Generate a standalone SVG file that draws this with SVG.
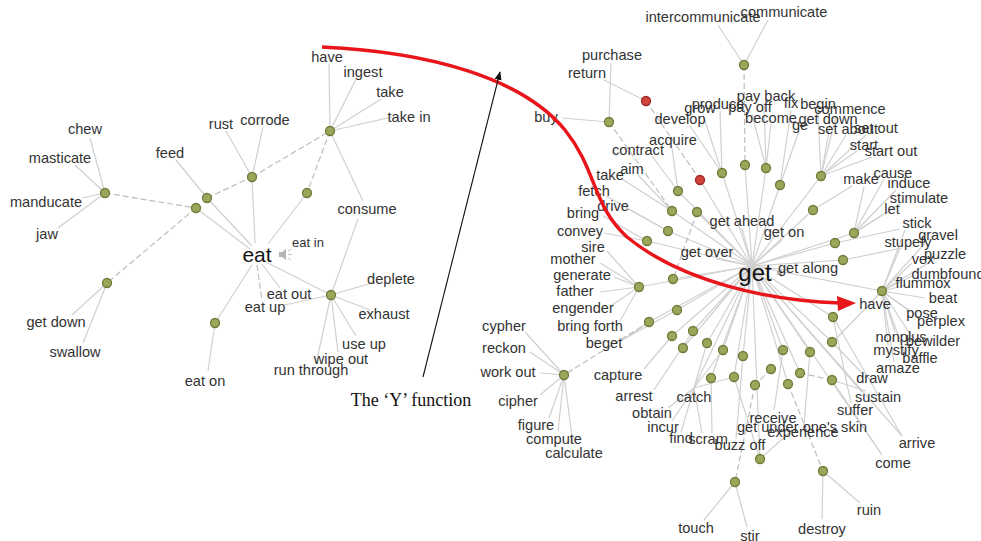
<svg xmlns="http://www.w3.org/2000/svg" width="981" height="541" viewBox="0 0 981 541">
<style>
  text { font-family: "Liberation Sans", Arial, sans-serif; font-size: 14.6px; fill: #333; text-anchor: middle; }
  .big { font-size: 21px; fill: #111; }
  .huge { font-size: 24px; fill: #111; }
  .small { font-size: 13px; }
  .cap { font-family: "Liberation Serif", "Times New Roman", serif; font-size: 18px; fill: #111; }
  .e line { stroke: #d0d0d0; stroke-width: 1.2; }
  .e line.d { stroke: #bdbdbd; stroke-dasharray: 6 3; }
  .node circle { fill: #9aa65a; stroke: #6e7b3a; stroke-width: 1.3; }
  .node.hot circle { fill: #d2433d; stroke: #9c2b26; }
  .icon { fill: #b5b5b5; }
</style>
<defs>
  <marker id="blk" viewBox="0 0 10 10" refX="9" refY="5" markerWidth="8" markerHeight="8" orient="auto">
    <path d="M0,1 L10,5 L0,9 z" fill="#111"/>
  </marker>
</defs>
<rect width="981" height="541" fill="#fff"/>

<!-- connectors -->
<g id="connectors" class="e">
  <!-- eat cluster -->
  <line x1="105" y1="193" x2="90" y2="138"/>
  <line x1="105" y1="193" x2="75" y2="165"/>
  <line x1="105" y1="193" x2="82" y2="198"/>
  <line x1="105" y1="193" x2="58" y2="228"/>
  <line class="d" x1="105" y1="193" x2="196" y2="208"/>
  <line x1="207" y1="198" x2="176" y2="160"/>
  <line x1="207" y1="198" x2="252" y2="246"/>
  <line x1="196" y1="208" x2="250" y2="249"/>
  <line class="d" x1="207" y1="198" x2="252" y2="177"/>
  <line class="d" x1="196" y1="208" x2="107" y2="283"/>
  <line x1="252" y1="177" x2="226" y2="131"/>
  <line x1="252" y1="177" x2="263" y2="127"/>
  <line x1="252" y1="177" x2="255" y2="243"/>
  <line class="d" x1="252" y1="177" x2="330" y2="131"/>
  <line x1="330" y1="131" x2="329" y2="64"/>
  <line x1="330" y1="131" x2="356" y2="79"/>
  <line x1="330" y1="131" x2="381" y2="99"/>
  <line x1="330" y1="131" x2="392" y2="117"/>
  <line x1="330" y1="131" x2="363" y2="201"/>
  <line class="d" x1="330" y1="131" x2="307" y2="193"/>
  <line x1="307" y1="193" x2="268" y2="244"/>
  <line x1="358" y1="219" x2="331" y2="295"/>
  <line x1="331" y1="295" x2="375" y2="282"/>
  <line x1="331" y1="295" x2="370" y2="310"/>
  <line x1="331" y1="295" x2="356" y2="336"/>
  <line x1="331" y1="295" x2="338" y2="352"/>
  <line x1="331" y1="295" x2="316" y2="364"/>
  <line x1="331" y1="295" x2="284" y2="305"/>
  <line x1="266" y1="262" x2="331" y2="295"/>
  <line x1="262" y1="264" x2="280" y2="288"/>
  <line class="d" x1="257" y1="265" x2="262" y2="301"/>
  <line x1="252" y1="265" x2="215" y2="323"/>
  <line x1="215" y1="323" x2="208" y2="371"/>
  <line x1="107" y1="283" x2="72" y2="315"/>
  <line x1="107" y1="283" x2="83" y2="343"/>

  <!-- get cluster: spokes from the hub -->
  <line x1="752" y1="266" x2="722" y2="173"/>
  <line x1="752" y1="266" x2="745" y2="165"/>
  <line x1="752" y1="266" x2="766" y2="168"/>
  <line x1="752" y1="266" x2="780" y2="185"/>
  <line x1="752" y1="266" x2="700" y2="180"/>
  <line x1="752" y1="266" x2="678" y2="191"/>
  <line x1="752" y1="266" x2="672" y2="211"/>
  <line x1="752" y1="266" x2="697" y2="212"/>
  <line x1="752" y1="266" x2="668" y2="231"/>
  <line x1="752" y1="266" x2="647" y2="241"/>
  <line x1="752" y1="266" x2="821" y2="176"/>
  <line x1="752" y1="266" x2="813" y2="210"/>
  <line x1="752" y1="266" x2="854" y2="233"/>
  <line x1="752" y1="266" x2="835" y2="243"/>
  <line x1="752" y1="266" x2="843" y2="260"/>
  <line x1="752" y1="266" x2="673" y2="279"/>
  <line x1="752" y1="266" x2="639" y2="287"/>
  <line x1="752" y1="266" x2="677" y2="310"/>
  <line x1="752" y1="266" x2="649" y2="322"/>
  <line x1="752" y1="266" x2="672" y2="336"/>
  <line x1="752" y1="266" x2="693" y2="331"/>
  <line x1="752" y1="266" x2="882" y2="291"/>
  <line x1="752" y1="266" x2="833" y2="317"/>
  <line x1="752" y1="266" x2="683" y2="348"/>
  <line x1="752" y1="266" x2="707" y2="343"/>
  <line x1="752" y1="266" x2="723" y2="350"/>
  <line x1="752" y1="266" x2="743" y2="356"/>
  <line x1="752" y1="266" x2="783" y2="350"/>
  <line x1="752" y1="266" x2="810" y2="352"/>
  <line x1="752" y1="266" x2="832" y2="342"/>
  <line x1="752" y1="266" x2="711" y2="378"/>
  <line x1="752" y1="266" x2="734" y2="377"/>
  <line x1="752" y1="266" x2="788" y2="384"/>
  <line x1="752" y1="266" x2="800" y2="373"/>
  <line x1="752" y1="266" x2="760" y2="459"/>
  <line x1="752" y1="266" x2="742" y2="228"/>
  <line x1="752" y1="266" x2="782" y2="240"/>
  <line x1="752" y1="266" x2="716" y2="259"/>
  <line x1="752" y1="266" x2="790" y2="270"/>
  <line x1="752" y1="266" x2="902" y2="436"/>
  <line x1="752" y1="266" x2="882" y2="455"/>
  <line x1="752" y1="266" x2="862" y2="392"/>
  <line x1="752" y1="266" x2="694" y2="388"/>

  <!-- get cluster: leaves -->
  <line x1="744" y1="65" x2="718" y2="25"/>
  <line x1="744" y1="65" x2="768" y2="20"/>
  <line class="d" x1="744" y1="65" x2="745" y2="165"/>
  <line x1="646" y1="101" x2="604" y2="80"/>
  <line class="d" x1="646" y1="101" x2="700" y2="180"/>
  <line x1="609" y1="122" x2="611" y2="63"/>
  <line x1="609" y1="122" x2="562" y2="118"/>
  <line class="d" x1="609" y1="122" x2="672" y2="211"/>
  <line x1="722" y1="173" x2="690" y2="126"/>
  <line x1="722" y1="173" x2="703" y2="115"/>
  <line x1="722" y1="173" x2="720" y2="111"/>
  <line x1="766" y1="168" x2="752" y2="114"/>
  <line x1="766" y1="168" x2="764" y2="103"/>
  <line x1="766" y1="168" x2="771" y2="124"/>
  <line x1="780" y1="185" x2="791" y2="110"/>
  <line x1="780" y1="185" x2="799" y2="131"/>
  <line x1="821" y1="176" x2="818" y2="111"/>
  <line x1="821" y1="176" x2="836" y2="116"/>
  <line x1="821" y1="176" x2="830" y2="125"/>
  <line x1="821" y1="176" x2="846" y2="135"/>
  <line x1="821" y1="176" x2="866" y2="135"/>
  <line x1="821" y1="176" x2="857" y2="151"/>
  <line x1="821" y1="176" x2="872" y2="157"/>
  <line x1="813" y1="210" x2="852" y2="186"/>
  <line x1="854" y1="233" x2="884" y2="179"/>
  <line x1="854" y1="233" x2="896" y2="190"/>
  <line x1="854" y1="233" x2="900" y2="204"/>
  <line x1="854" y1="233" x2="884" y2="214"/>
  <line x1="854" y1="233" x2="864" y2="187"/>
  <line x1="835" y1="243" x2="900" y2="229"/>
  <line x1="843" y1="260" x2="902" y2="248"/>
  <line x1="882" y1="291" x2="905" y2="230"/>
  <line x1="882" y1="291" x2="926" y2="242"/>
  <line x1="882" y1="291" x2="900" y2="248"/>
  <line x1="882" y1="291" x2="935" y2="259"/>
  <line x1="882" y1="291" x2="912" y2="263"/>
  <line x1="882" y1="291" x2="912" y2="276"/>
  <line x1="882" y1="291" x2="906" y2="285"/>
  <line x1="882" y1="291" x2="925" y2="298"/>
  <line x1="882" y1="291" x2="908" y2="310"/>
  <line x1="882" y1="291" x2="920" y2="318"/>
  <line x1="882" y1="291" x2="895" y2="332"/>
  <line x1="882" y1="291" x2="912" y2="337"/>
  <line x1="882" y1="291" x2="888" y2="345"/>
  <line x1="882" y1="291" x2="905" y2="354"/>
  <line x1="882" y1="291" x2="894" y2="362"/>
  <line x1="882" y1="291" x2="876" y2="297"/>
  <line x1="882" y1="291" x2="833" y2="342"/>
  <line x1="678" y1="191" x2="672" y2="148"/>
  <line x1="678" y1="191" x2="652" y2="156"/>
  <line x1="672" y1="211" x2="638" y2="175"/>
  <line x1="672" y1="211" x2="622" y2="179"/>
  <line class="d" x1="697" y1="212" x2="673" y2="279"/>
  <line x1="668" y1="231" x2="606" y2="196"/>
  <line x1="668" y1="231" x2="628" y2="209"/>
  <line x1="647" y1="241" x2="603" y2="216"/>
  <line x1="647" y1="241" x2="604" y2="233"/>
  <line x1="639" y1="287" x2="607" y2="251"/>
  <line x1="639" y1="287" x2="600" y2="263"/>
  <line x1="639" y1="287" x2="614" y2="277"/>
  <line x1="639" y1="287" x2="600" y2="292"/>
  <line x1="639" y1="287" x2="612" y2="305"/>
  <line x1="639" y1="287" x2="620" y2="321"/>
  <line x1="677" y1="310" x2="622" y2="340"/>
  <line x1="649" y1="322" x2="626" y2="338"/>
  <line class="d" x1="649" y1="322" x2="564" y2="375"/>
  <line x1="564" y1="375" x2="525" y2="332"/>
  <line x1="564" y1="375" x2="530" y2="352"/>
  <line x1="564" y1="375" x2="540" y2="373"/>
  <line x1="564" y1="375" x2="540" y2="395"/>
  <line x1="564" y1="375" x2="549" y2="418"/>
  <line x1="564" y1="375" x2="558" y2="431"/>
  <line x1="564" y1="375" x2="573" y2="444"/>
  <line x1="672" y1="336" x2="644" y2="369"/>
  <line x1="693" y1="331" x2="654" y2="390"/>
  <line x1="694" y1="388" x2="668" y2="408"/>
  <line x1="694" y1="388" x2="672" y2="421"/>
  <line x1="694" y1="388" x2="681" y2="432"/>
  <line x1="694" y1="388" x2="702" y2="433"/>
  <line x1="694" y1="388" x2="707" y2="343"/>
  <line x1="694" y1="388" x2="723" y2="350"/>
  <line x1="694" y1="388" x2="734" y2="377"/>
  <line x1="743" y1="356" x2="736" y2="439"/>
  <line x1="783" y1="350" x2="774" y2="410"/>
  <line x1="810" y1="352" x2="804" y2="425"/>
  <line x1="832" y1="342" x2="862" y2="373"/>
  <line x1="833" y1="317" x2="851" y2="403"/>
  <line x1="711" y1="378" x2="712" y2="433"/>
  <line x1="734" y1="377" x2="760" y2="459"/>
  <line x1="832" y1="380" x2="866" y2="391"/>
  <line x1="832" y1="380" x2="882" y2="455"/>
  <line x1="833" y1="317" x2="902" y2="436"/>
  <line class="d" x1="771" y1="369" x2="755" y2="385"/>
  <line class="d" x1="755" y1="385" x2="735" y2="482"/>
  <line class="d" x1="788" y1="384" x2="823" y2="471"/>
  <line class="d" x1="800" y1="373" x2="832" y2="380"/>
  <line x1="760" y1="459" x2="790" y2="432"/>
  <line x1="735" y1="482" x2="704" y2="520"/>
  <line x1="735" y1="482" x2="747" y2="527"/>
  <line x1="823" y1="471" x2="822" y2="519"/>
  <line x1="823" y1="471" x2="860" y2="503"/>
</g>

<!-- hub nodes, eat cluster -->
<g id="n-eat-chew" class="node"><circle cx="105" cy="193" r="4.5"/></g>
<g id="n-eat-feed" class="node"><circle cx="207" cy="198" r="4.5"/></g>
<g id="n-eat-link" class="node"><circle cx="196" cy="208" r="4.5"/></g>
<g id="n-eat-corrode" class="node"><circle cx="252" cy="177" r="4.5"/></g>
<g id="n-eat-ingest" class="node"><circle cx="330" cy="131" r="4.5"/></g>
<g id="n-eat-mid" class="node"><circle cx="307" cy="193" r="4.5"/></g>
<g id="n-eat-swallow" class="node"><circle cx="107" cy="283" r="4.5"/></g>
<g id="n-eat-on" class="node"><circle cx="215" cy="323" r="4.5"/></g>
<g id="n-eat-exhaust" class="node"><circle cx="331" cy="295" r="4.5"/></g>

<!-- hub nodes, get cluster -->
<g id="n-get-communicate" class="node"><circle cx="744" cy="65" r="4.5"/></g>
<g id="n-get-return" class="node hot"><circle cx="646" cy="101" r="4.5"/></g>
<g id="n-get-buy" class="node"><circle cx="609" cy="122" r="4.5"/></g>
<g id="n-get-develop" class="node"><circle cx="722" cy="173" r="4.5"/></g>
<g id="n-get-5" class="node"><circle cx="745" cy="165" r="4.5"/></g>
<g id="n-get-payoff" class="node"><circle cx="766" cy="168" r="4.5"/></g>
<g id="n-get-fix" class="node"><circle cx="780" cy="185" r="4.5"/></g>
<g id="n-get-red2" class="node hot"><circle cx="700" cy="180" r="4.5"/></g>
<g id="n-get-acquire" class="node"><circle cx="678" cy="191" r="4.5"/></g>
<g id="n-get-aim" class="node"><circle cx="672" cy="211" r="4.5"/></g>
<g id="n-get-11" class="node"><circle cx="697" cy="212" r="4.5"/></g>
<g id="n-get-fetch" class="node"><circle cx="668" cy="231" r="4.5"/></g>
<g id="n-get-bring" class="node"><circle cx="647" cy="241" r="4.5"/></g>
<g id="n-get-start" class="node"><circle cx="821" cy="176" r="4.5"/></g>
<g id="n-get-make" class="node"><circle cx="813" cy="210" r="4.5"/></g>
<g id="n-get-cause" class="node"><circle cx="854" cy="233" r="4.5"/></g>
<g id="n-get-17" class="node"><circle cx="835" cy="243" r="4.5"/></g>
<g id="n-get-18" class="node"><circle cx="843" cy="260" r="4.5"/></g>
<g id="n-get-19" class="node"><circle cx="673" cy="279" r="4.5"/></g>
<g id="n-get-father" class="node"><circle cx="639" cy="287" r="4.5"/></g>
<g id="n-get-21" class="node"><circle cx="677" cy="310" r="4.5"/></g>
<g id="n-get-beget" class="node"><circle cx="649" cy="322" r="4.5"/></g>
<g id="n-get-capture" class="node"><circle cx="672" cy="336" r="4.5"/></g>
<g id="n-get-arrest" class="node"><circle cx="693" cy="331" r="4.5"/></g>
<g id="n-get-have" class="node"><circle cx="882" cy="291" r="4.5"/></g>
<g id="n-get-suffer" class="node"><circle cx="833" cy="317" r="4.5"/></g>
<g id="n-get-27" class="node"><circle cx="683" cy="348" r="4.5"/></g>
<g id="n-get-28" class="node"><circle cx="707" cy="343" r="4.5"/></g>
<g id="n-get-29" class="node"><circle cx="723" cy="350" r="4.5"/></g>
<g id="n-get-buzz" class="node"><circle cx="743" cy="356" r="4.5"/></g>
<g id="n-get-receive" class="node"><circle cx="783" cy="350" r="4.5"/></g>
<g id="n-get-experience" class="node"><circle cx="810" cy="352" r="4.5"/></g>
<g id="n-get-draw" class="node"><circle cx="832" cy="342" r="4.5"/></g>
<g id="n-get-scram" class="node"><circle cx="711" cy="378" r="4.5"/></g>
<g id="n-get-35" class="node"><circle cx="734" cy="377" r="4.5"/></g>
<g id="n-get-36" class="node"><circle cx="755" cy="385" r="4.5"/></g>
<g id="n-get-37" class="node"><circle cx="771" cy="369" r="4.5"/></g>
<g id="n-get-38" class="node"><circle cx="788" cy="384" r="4.5"/></g>
<g id="n-get-39" class="node"><circle cx="800" cy="373" r="4.5"/></g>
<g id="n-get-sustain" class="node"><circle cx="832" cy="380" r="4.5"/></g>
<g id="n-get-41" class="node"><circle cx="760" cy="459" r="4.5"/></g>
<g id="n-get-touch" class="node"><circle cx="735" cy="482" r="4.5"/></g>
<g id="n-get-destroy" class="node"><circle cx="823" cy="471" r="4.5"/></g>
<g id="n-get-figure" class="node"><circle cx="564" cy="375" r="4.5"/></g>

<!-- word nodes, eat cluster -->
<g id="w-eat"><text class="big" x="257" y="262">eat</text><path class="icon" d="M279,252 h3 l4,-3 v11 l-4,-3 h-3 z"/><path d="M288,251 l3,-2 M288,254.5 h4 M288,258 l3,2" stroke="#c4c4c4" stroke-width="1" fill="none"/></g>
<g id="w-eat-words">
  <text x="85" y="134">chew</text>
  <text x="60" y="163">masticate</text>
  <text x="46" y="207">manducate</text>
  <text x="47" y="239">jaw</text>
  <text x="170" y="158">feed</text>
  <text x="221" y="129">rust</text>
  <text x="265" y="125">corrode</text>
  <text x="327" y="62">have</text>
  <text x="363" y="77">ingest</text>
  <text x="390" y="97">take</text>
  <text x="409" y="122">take in</text>
  <text x="367" y="214">consume</text>
  <text class="small" x="308" y="247">eat in</text>
  <text x="289" y="299">eat out</text>
  <text x="265" y="312">eat up</text>
  <text x="391" y="284">deplete</text>
  <text x="384" y="319">exhaust</text>
  <text x="364" y="349">use up</text>
  <text x="341" y="364">wipe out</text>
  <text x="311" y="375">run through</text>
  <text x="56" y="327">get down</text>
  <text x="75" y="357">swallow</text>
  <text x="205" y="386">eat on</text>
</g>

<!-- word nodes, get cluster -->
<g id="w-get"><text class="huge" x="755" y="281">get</text><path class="icon" d="M777,271 h2 l3,-2 v8 l-3,-2 h-2 z"/></g>
<g id="w-get-words">
  <text x="703" y="22">intercommunicate</text>
  <text x="784" y="17">communicate</text>
  <text x="612" y="60">purchase</text>
  <text x="587" y="78">return</text>
  <text x="546" y="122">buy</text>
  <text x="680" y="124">develop</text>
  <text x="700" y="113">grow</text>
  <text x="718" y="109">produce</text>
  <text x="750" y="112">pay off</text>
  <text x="766" y="101">pay back</text>
  <text x="771" y="123">become</text>
  <text x="791" y="108">fix</text>
  <text x="818" y="109">begin</text>
  <text x="850" y="114">commence</text>
  <text x="828" y="124">get down</text>
  <text x="800" y="130">ge</text>
  <text x="848" y="134">set about</text>
  <text x="876" y="133">set out</text>
  <text x="864" y="150">start</text>
  <text x="891" y="156">start out</text>
  <text x="861" y="184">make</text>
  <text x="893" y="178">cause</text>
  <text x="909" y="188">induce</text>
  <text x="919" y="203">stimulate</text>
  <text x="892" y="214">let</text>
  <text x="917" y="228">stick</text>
  <text x="938" y="240">gravel</text>
  <text x="908" y="247">stupefy</text>
  <text x="945" y="259">puzzle</text>
  <text x="923" y="264">vex</text>
  <text x="948" y="279">dumbfound</text>
  <text x="923" y="288">flummox</text>
  <text x="943" y="303">beat</text>
  <text x="922" y="318">pose</text>
  <text x="941" y="326">perplex</text>
  <text x="901" y="342">nonplus</text>
  <text x="933" y="346">bewilder</text>
  <text x="896" y="355">mystify</text>
  <text x="920" y="363">baffle</text>
  <text x="898" y="373">amaze</text>
  <text x="872" y="383">draw</text>
  <text x="878" y="402">sustain</text>
  <text x="855" y="415">suffer</text>
  <text x="773" y="423">receive</text>
  <text x="802" y="432">get under one's skin</text>
  <text x="803" y="437">experience</text>
  <text x="917" y="448">arrive</text>
  <text x="893" y="468">come</text>
  <text x="869" y="515">ruin</text>
  <text x="822" y="534">destroy</text>
  <text x="750" y="541">stir</text>
  <text x="696" y="533">touch</text>
  <text x="740" y="450">buzz off</text>
  <text x="708" y="444">scram</text>
  <text x="681" y="443">find</text>
  <text x="663" y="432">incur</text>
  <text x="652" y="418">obtain</text>
  <text x="694" y="402">catch</text>
  <text x="634" y="401">arrest</text>
  <text x="618" y="380">capture</text>
  <text x="604" y="348">beget</text>
  <text x="590" y="331">bring forth</text>
  <text x="583" y="313">engender</text>
  <text x="575" y="296">father</text>
  <text x="582" y="280">generate</text>
  <text x="573" y="264">mother</text>
  <text x="593" y="252">sire</text>
  <text x="580" y="236">convey</text>
  <text x="583" y="218">bring</text>
  <text x="613" y="211">drive</text>
  <text x="594" y="196">fetch</text>
  <text x="610" y="180">take</text>
  <text x="632" y="174">aim</text>
  <text x="638" y="155">contract</text>
  <text x="673" y="145">acquire</text>
  <text x="742" y="226">get ahead</text>
  <text x="784" y="237">get on</text>
  <text x="707" y="257">get over</text>
  <text x="808" y="273">get along</text>
  <text x="875" y="309">have</text>
  <text x="504" y="331">cypher</text>
  <text x="504" y="353">reckon</text>
  <text x="508" y="377">work out</text>
  <text x="518" y="406">cipher</text>
  <text x="536" y="430">figure</text>
  <text x="554" y="444">compute</text>
  <text x="574" y="458">calculate</text>
</g>

<!-- mapping arc from "have" to "have" and its caption -->
<g id="y-arrow">
  <path d="M322,47 C430,52 522,78 565,130 C597,170 592,205 627,237 C682,282 770,301 840,303" fill="none" stroke="#e8161b" stroke-width="3.5"/>
  <polygon points="856,303 837,296 838,311" fill="#e8161b"/>
</g>
<g id="y-caption">
  <line x1="423" y1="377" x2="500" y2="72" stroke="#111" stroke-width="1.1" marker-end="url(#blk)"/>
  <text class="cap" x="411" y="406">The ‘Y’ function</text>
</g>
</svg>
